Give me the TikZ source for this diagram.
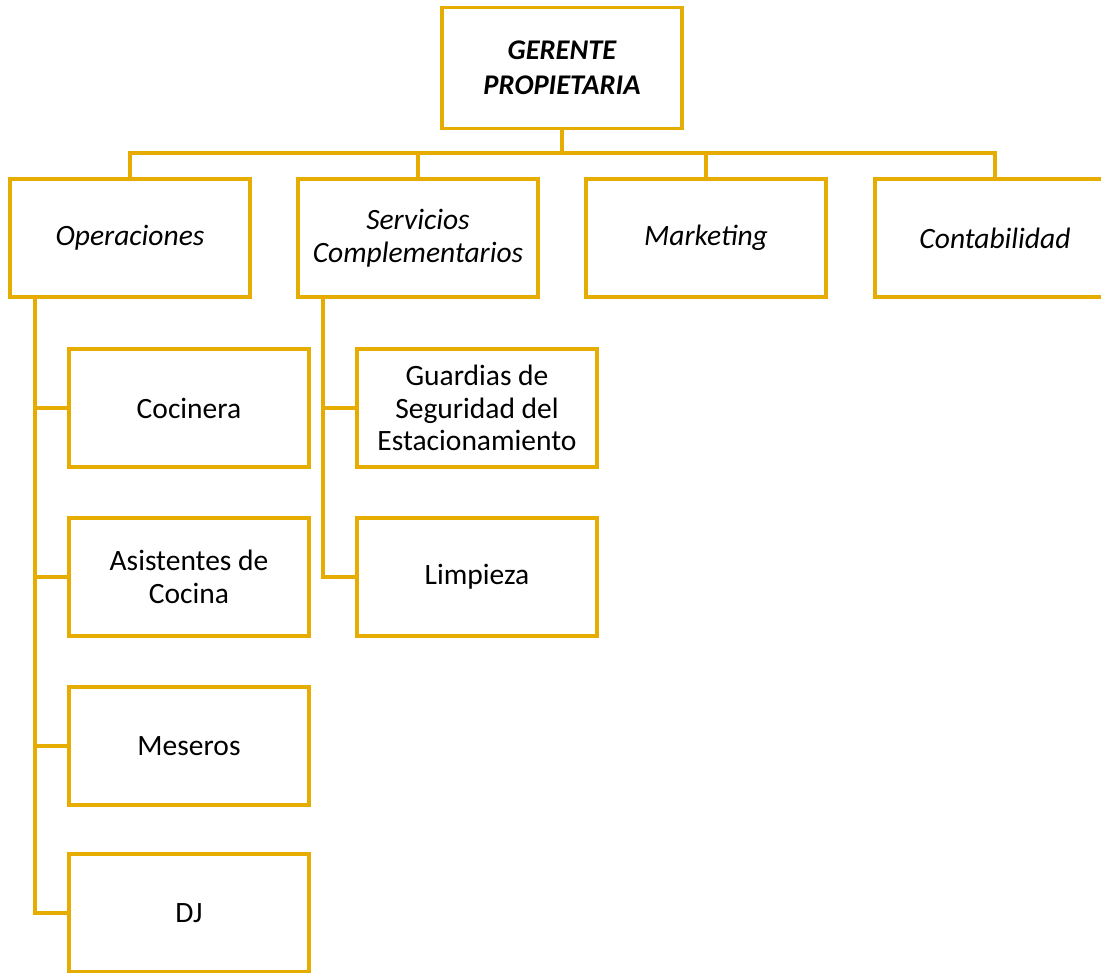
\documentclass[tikz,border=0pt]{standalone}
\usepackage{fontspec}
\setmainfont{Carlito}
\definecolor{gold}{RGB}{230,172,0}
\tikzset{
    unit/.style={draw=gold, line width=3.5pt, minimum width=240pt, minimum height=118pt,
        align=center, font=\fontsize{29.5}{32.5}\selectfont, inner sep=2pt},
    area/.style={unit, font=\fontsize{29.5}{32.5}\selectfont\itshape},
    link/.style={draw=gold, line width=3.5pt}
}
\begin{document}
\begin{tikzpicture}[x=1pt, y=-1pt]
    \useasboundingbox (0,0) rectangle (1101,973);

    % Head
    \node[area, minimum height=121pt, font=\fontsize{28.5}{35}\selectfont\bfseries\itshape] (ger) at (562,68) {GERENTE\\PROPIETARIA};

    % Areas
    \node[area] (op)  at  (130,238) {Operaciones};
    \node[area] (ser) at  (418,238) {Servicios\\Complementarios};
    \node[area] (mar) at  (706,238) {Marketing};
    \node[area] (con) at  (995,238) {Contabilidad};

    % Operaciones staff
    \node[unit] (coc) at (189,408) {Cocinera};
    \node[unit] (asi) at (189,577) {Asistentes de\\Cocina};
    \node[unit] (mes) at (189,746) {Meseros};
    \node[unit] (dj)  at (189,913) {DJ};

    % Servicios staff
    \node[unit] (gua) at (477,408) {Guardias de\\Seguridad del\\Estacionamiento};
    \node[unit] (lim) at (477,577) {Limpieza};

    % branching coordinates
    \coordinate (opv)  at  (35,297);
    \coordinate (serv) at (323,297);

    % Lines
    \draw[link] (op.north)  -- ++(0,-24) -| (ger.south);
    \draw[link] (ser.north) -- ++(0,-24) -| (ger.south);
    \draw[link] (mar.north) -- ++(0,-24) -| (ger.south);
    \draw[link] (con.north) -- ++(0,-24) -| (ger.south);
    \draw[link] (opv) |- (coc.west);
    \draw[link] (opv) |- (asi.west);
    \draw[link] (opv) |- (mes.west);
    \draw[link] (opv) |- (dj.west);
    \draw[link] (serv) |- (gua.west);
    \draw[link] (serv) |- (lim.west);
\end{tikzpicture}
\end{document}
